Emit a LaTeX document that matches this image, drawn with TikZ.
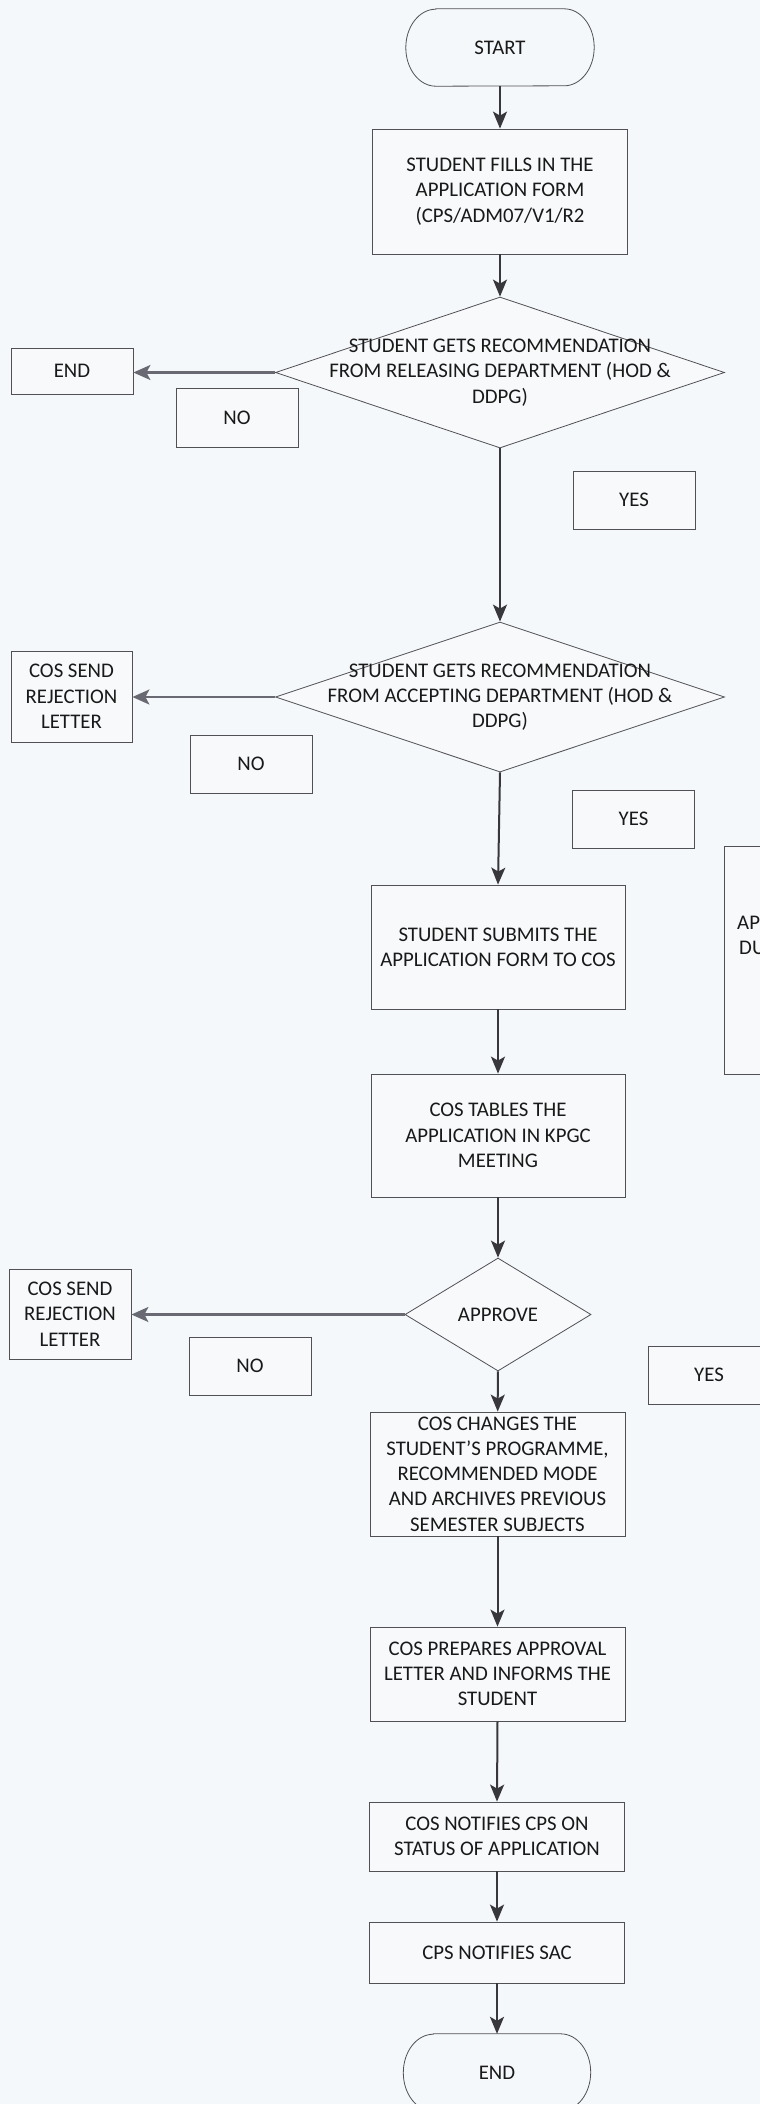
\documentclass[tikz,border=0pt]{standalone}
\usepackage{fontspec}
\setmainfont{Carlito}
\usetikzlibrary{arrows.meta,shapes.geometric}
\definecolor{bg}{RGB}{245,248,250}
\definecolor{boxfill}{RGB}{247,249,250}
\definecolor{edge}{RGB}{80,80,85}
\definecolor{arr}{RGB}{55,55,60}
\definecolor{harr}{RGB}{105,105,115}
\definecolor{txt}{RGB}{25,25,25}
\begin{document}
\begin{tikzpicture}[x=1pt,y=-1pt,
  font=\fontsize{20.8}{25.3}\selectfont, text=txt,
  box/.style={draw=edge, line width=0.8pt, fill=boxfill, rectangle, inner sep=0pt, align=center},
  termline/.style={draw=edge, line width=0.8pt},
  dia/.style={draw=edge, line width=0.8pt, fill=boxfill, diamond, inner sep=0pt},
  lbl/.style={inner sep=0pt, align=center},
  flow/.style={draw=arr, line width=2pt, -{Stealth[length=17pt,width=14pt,inset=4pt]}},
  sideflow/.style={draw=harr, line width=2.2pt, -{Stealth[length=17pt,width=15pt,inset=4pt]}},
]
\useasboundingbox (0,0) rectangle (760,2104);
\clip (0,0) rectangle (760,2104);
\fill[bg] (0,0) rectangle (760,2104);

% main column
\node[lbl, minimum width=188pt, minimum height=77pt] (start) at (500,47.5) {START};
\draw[termline] ([xshift=30pt]start.north west) -- ([xshift=-30pt]start.north east)
  arc[start angle=90, end angle=-90, x radius=30pt, y radius=38.5pt]
  -- ([xshift=30pt]start.south west)
  arc[start angle=270, end angle=90, x radius=30pt, y radius=38.5pt] -- cycle;
\node[box, minimum width=255pt, minimum height=125pt] (fill) at (500,191.5) {STUDENT FILLS IN THE\\APPLICATION FORM\\(CPS/ADM07/V1/R2};
\node[dia, minimum width=449pt, minimum height=151pt] (d1) at (500,372.5) {};
\node[lbl] (d1t) at (500,372.5) {STUDENT GETS RECOMMENDATION\\FROM RELEASING DEPARTMENT (HOD \&\\DDPG)};
\node[dia, minimum width=449pt, minimum height=150pt] (d2) at (500,697) {};
\node[lbl] (d2t) at (500,697) {STUDENT GETS RECOMMENDATION\\FROM ACCEPTING DEPARTMENT (HOD \&\\DDPG)};
\node[box, minimum width=254pt, minimum height=124pt] (sub) at (498,947) {STUDENT SUBMITS THE\\APPLICATION FORM TO COS};
\node[box, minimum width=254pt, minimum height=123pt] (tab) at (498,1135.5) {COS TABLES THE\\APPLICATION IN KPGC\\MEETING};
\node[dia, minimum width=186pt, minimum height=113pt] (d3) at (498,1314.5) {};
\node[lbl] (d3t) at (498,1314.5) {APPROVE};
\node[box, minimum width=255pt, minimum height=124pt] (chg) at (497.5,1474) {COS CHANGES THE\\STUDENT’S PROGRAMME,\\RECOMMENDED MODE\\AND ARCHIVES PREVIOUS\\SEMESTER SUBJECTS};
\node[box, minimum width=255pt, minimum height=94pt] (prep) at (497.5,1674) {COS PREPARES APPROVAL\\LETTER AND INFORMS THE\\STUDENT};
\node[box, minimum width=255pt, minimum height=69pt] (notc) at (497,1836.5) {COS NOTIFIES CPS ON\\STATUS OF APPLICATION};
\node[box, minimum width=255pt, minimum height=61pt] (sac) at (497,1952.5) {CPS NOTIFIES SAC};
\node[lbl, minimum width=187pt, minimum height=77pt] (endt) at (497,2072.5) {END};
\draw[termline] ([xshift=30pt]endt.north west) -- ([xshift=-30pt]endt.north east)
  arc[start angle=90, end angle=-90, x radius=30pt, y radius=38.5pt]
  -- ([xshift=30pt]endt.south west)
  arc[start angle=270, end angle=90, x radius=30pt, y radius=38.5pt] -- cycle;

% left column
\node[box, minimum width=122pt, minimum height=46pt] (end1) at (72,371) {END};
\node[box, minimum width=121pt, minimum height=91pt] (rej1) at (71.5,696.5) {COS SEND\\REJECTION\\LETTER};
\node[box, minimum width=122pt, minimum height=90pt] (rej2) at (70,1314) {COS SEND\\REJECTION\\LETTER};

% label boxes
\node[box, minimum width=122pt, minimum height=59pt] (no1) at (237,417.5) {NO};
\node[box, minimum width=122pt, minimum height=58pt] (no2) at (251,764) {NO};
\node[box, minimum width=122pt, minimum height=58pt] (no3) at (250,1366) {NO};
\node[box, minimum width=122pt, minimum height=58pt] (yes1) at (634,500) {YES};
\node[box, minimum width=122pt, minimum height=58pt] (yes2) at (633.5,819) {YES};
\node[box, minimum width=122pt, minimum height=58pt] (yes3) at (709,1375) {YES};

% partly visible box at right edge
\node[box, minimum width=122pt, minimum height=228pt] (apbox) at (785,960) {};
\node[lbl, anchor=west] (ap) at (737,923) {AP};
\node[lbl, anchor=west] (du) at (739,948) {DU};

% connectors
\draw[flow] (start) -- (fill);
\draw[flow] (fill) -- (d1);
\draw[flow] (d1) -- (d2);
\draw[flow] (d2.south) -- (sub.north);
\draw[flow] (sub) -- (tab);
\draw[flow] (tab) -- (d3);
\draw[flow] (d3) -- (chg);
\draw[flow] (chg) -- (prep);
\draw[flow] (prep.south) -- (notc.north);
\draw[flow] (notc) -- (sac);
\draw[flow] (sac) -- (endt);
\draw[sideflow] (d1.west) -- (end1.east |- d1.west);
\draw[sideflow] (d2.west) -- (rej1.east |- d2.west);
\draw[sideflow] (d3.west) -- (rej2.east |- d3.west);
\end{tikzpicture}
\end{document}
